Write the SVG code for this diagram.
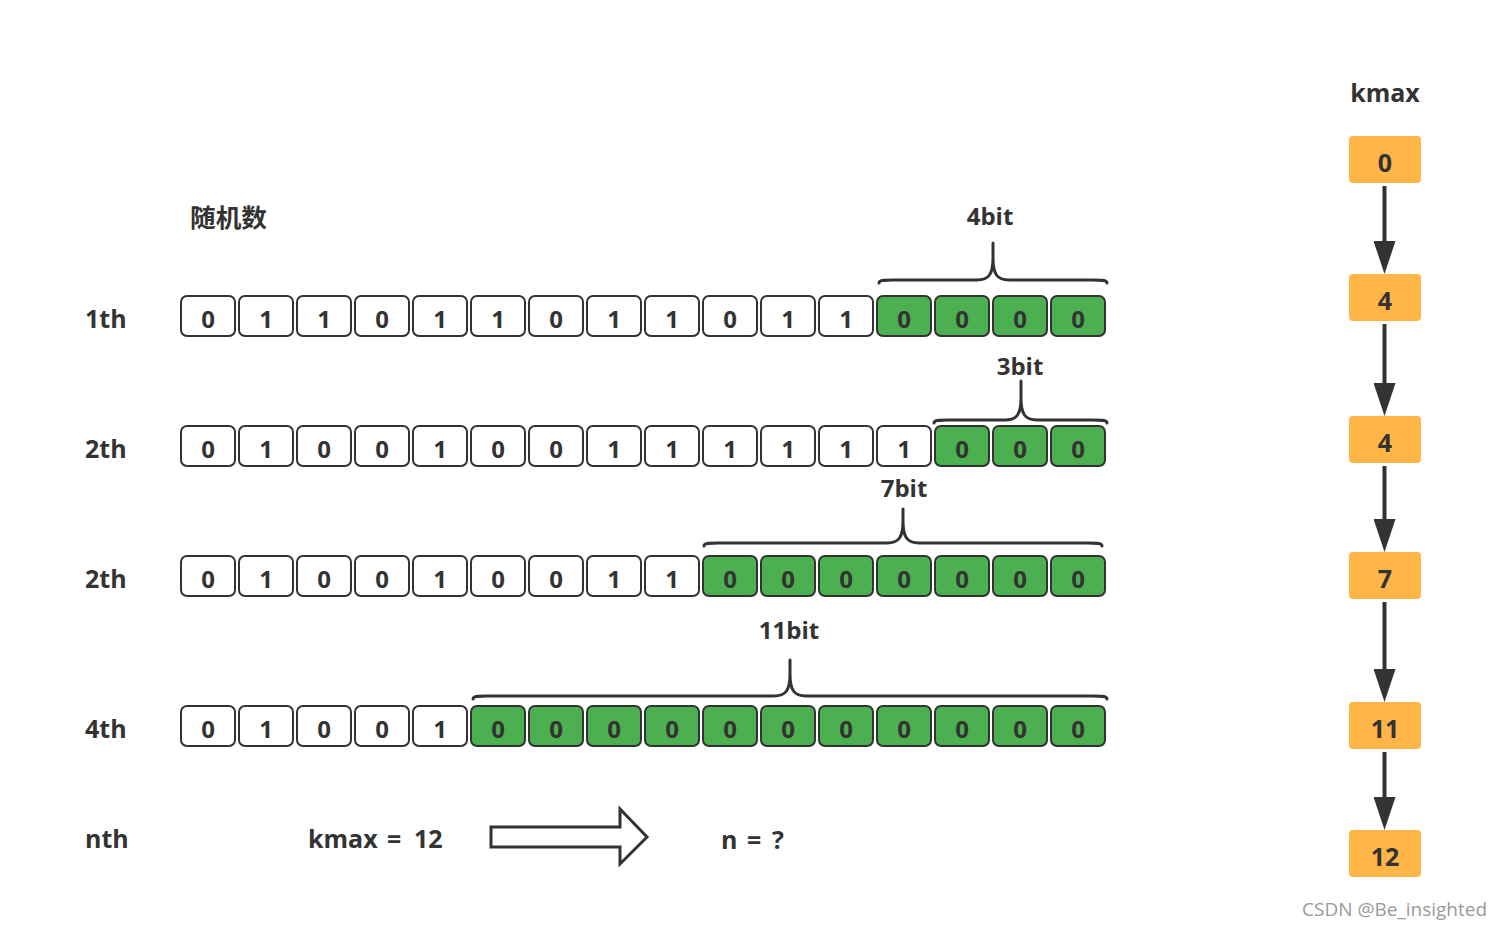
<svg xmlns="http://www.w3.org/2000/svg" width="1501" height="930" viewBox="0 0 1501 930">
<style>
.t{font-family:"Open Sans","Noto Sans CJK SC",sans-serif;font-weight:bold;fill:#333}
.cell{fill:#fff;stroke:#333;stroke-width:2}
.g{fill:#4CAF50;stroke:#333;stroke-width:2}
.d{font-size:24px;text-anchor:middle}
.lab{font-size:25px}
.ob{fill:#FFB547}
.brace{fill:none;stroke:#333;stroke-width:3;stroke-linecap:round}
.conn{stroke:#333;stroke-width:4}
</style>
<defs>
<marker id="ah" viewBox="0 0 33 22" refX="1" refY="11" markerWidth="33" markerHeight="22" markerUnits="userSpaceOnUse" orient="auto">
<path d="M0,0 L33,11 L0,22 z" fill="#333"/>
</marker>
</defs>
<rect width="1501" height="930" fill="#fff"/>

<text class="t" x="190" y="227" font-size="25" textLength="77" lengthAdjust="spacingAndGlyphs" style="font-family:'Noto Sans CJK SC',sans-serif">随机数</text>

<g id="labels">
<text class="t lab" x="85" y="328">1th</text>
<text class="t lab" x="85" y="458">2th</text>
<text class="t lab" x="85" y="588">2th</text>
<text class="t lab" x="85" y="738">4th</text>
<text class="t lab" x="85" y="848">nth</text>
</g>

<g id="row1">
<rect class="cell" x="181" y="296" width="54" height="40" rx="6"/><text class="t d" x="208" y="328">0</text>
<rect class="cell" x="239" y="296" width="54" height="40" rx="6"/><text class="t d" x="266" y="328">1</text>
<rect class="cell" x="297" y="296" width="54" height="40" rx="6"/><text class="t d" x="324" y="328">1</text>
<rect class="cell" x="355" y="296" width="54" height="40" rx="6"/><text class="t d" x="382" y="328">0</text>
<rect class="cell" x="413" y="296" width="54" height="40" rx="6"/><text class="t d" x="440" y="328">1</text>
<rect class="cell" x="471" y="296" width="54" height="40" rx="6"/><text class="t d" x="498" y="328">1</text>
<rect class="cell" x="529" y="296" width="54" height="40" rx="6"/><text class="t d" x="556" y="328">0</text>
<rect class="cell" x="587" y="296" width="54" height="40" rx="6"/><text class="t d" x="614" y="328">1</text>
<rect class="cell" x="645" y="296" width="54" height="40" rx="6"/><text class="t d" x="672" y="328">1</text>
<rect class="cell" x="703" y="296" width="54" height="40" rx="6"/><text class="t d" x="730" y="328">0</text>
<rect class="cell" x="761" y="296" width="54" height="40" rx="6"/><text class="t d" x="788" y="328">1</text>
<rect class="cell" x="819" y="296" width="54" height="40" rx="6"/><text class="t d" x="846" y="328">1</text>
<rect class="g" x="877" y="296" width="54" height="40" rx="6"/><text class="t d" x="904" y="328">0</text>
<rect class="g" x="935" y="296" width="54" height="40" rx="6"/><text class="t d" x="962" y="328">0</text>
<rect class="g" x="993" y="296" width="54" height="40" rx="6"/><text class="t d" x="1020" y="328">0</text>
<rect class="g" x="1051" y="296" width="54" height="40" rx="6"/><text class="t d" x="1078" y="328">0</text>
</g>

<g id="row2">
<rect class="cell" x="181" y="426" width="54" height="40" rx="6"/><text class="t d" x="208" y="458">0</text>
<rect class="cell" x="239" y="426" width="54" height="40" rx="6"/><text class="t d" x="266" y="458">1</text>
<rect class="cell" x="297" y="426" width="54" height="40" rx="6"/><text class="t d" x="324" y="458">0</text>
<rect class="cell" x="355" y="426" width="54" height="40" rx="6"/><text class="t d" x="382" y="458">0</text>
<rect class="cell" x="413" y="426" width="54" height="40" rx="6"/><text class="t d" x="440" y="458">1</text>
<rect class="cell" x="471" y="426" width="54" height="40" rx="6"/><text class="t d" x="498" y="458">0</text>
<rect class="cell" x="529" y="426" width="54" height="40" rx="6"/><text class="t d" x="556" y="458">0</text>
<rect class="cell" x="587" y="426" width="54" height="40" rx="6"/><text class="t d" x="614" y="458">1</text>
<rect class="cell" x="645" y="426" width="54" height="40" rx="6"/><text class="t d" x="672" y="458">1</text>
<rect class="cell" x="703" y="426" width="54" height="40" rx="6"/><text class="t d" x="730" y="458">1</text>
<rect class="cell" x="761" y="426" width="54" height="40" rx="6"/><text class="t d" x="788" y="458">1</text>
<rect class="cell" x="819" y="426" width="54" height="40" rx="6"/><text class="t d" x="846" y="458">1</text>
<rect class="cell" x="877" y="426" width="54" height="40" rx="6"/><text class="t d" x="904" y="458">1</text>
<rect class="g" x="935" y="426" width="54" height="40" rx="6"/><text class="t d" x="962" y="458">0</text>
<rect class="g" x="993" y="426" width="54" height="40" rx="6"/><text class="t d" x="1020" y="458">0</text>
<rect class="g" x="1051" y="426" width="54" height="40" rx="6"/><text class="t d" x="1078" y="458">0</text>
</g>

<g id="row3">
<rect class="cell" x="181" y="556" width="54" height="40" rx="6"/><text class="t d" x="208" y="588">0</text>
<rect class="cell" x="239" y="556" width="54" height="40" rx="6"/><text class="t d" x="266" y="588">1</text>
<rect class="cell" x="297" y="556" width="54" height="40" rx="6"/><text class="t d" x="324" y="588">0</text>
<rect class="cell" x="355" y="556" width="54" height="40" rx="6"/><text class="t d" x="382" y="588">0</text>
<rect class="cell" x="413" y="556" width="54" height="40" rx="6"/><text class="t d" x="440" y="588">1</text>
<rect class="cell" x="471" y="556" width="54" height="40" rx="6"/><text class="t d" x="498" y="588">0</text>
<rect class="cell" x="529" y="556" width="54" height="40" rx="6"/><text class="t d" x="556" y="588">0</text>
<rect class="cell" x="587" y="556" width="54" height="40" rx="6"/><text class="t d" x="614" y="588">1</text>
<rect class="cell" x="645" y="556" width="54" height="40" rx="6"/><text class="t d" x="672" y="588">1</text>
<rect class="g" x="703" y="556" width="54" height="40" rx="6"/><text class="t d" x="730" y="588">0</text>
<rect class="g" x="761" y="556" width="54" height="40" rx="6"/><text class="t d" x="788" y="588">0</text>
<rect class="g" x="819" y="556" width="54" height="40" rx="6"/><text class="t d" x="846" y="588">0</text>
<rect class="g" x="877" y="556" width="54" height="40" rx="6"/><text class="t d" x="904" y="588">0</text>
<rect class="g" x="935" y="556" width="54" height="40" rx="6"/><text class="t d" x="962" y="588">0</text>
<rect class="g" x="993" y="556" width="54" height="40" rx="6"/><text class="t d" x="1020" y="588">0</text>
<rect class="g" x="1051" y="556" width="54" height="40" rx="6"/><text class="t d" x="1078" y="588">0</text>
</g>

<g id="row4">
<rect class="cell" x="181" y="706" width="54" height="40" rx="6"/><text class="t d" x="208" y="738">0</text>
<rect class="cell" x="239" y="706" width="54" height="40" rx="6"/><text class="t d" x="266" y="738">1</text>
<rect class="cell" x="297" y="706" width="54" height="40" rx="6"/><text class="t d" x="324" y="738">0</text>
<rect class="cell" x="355" y="706" width="54" height="40" rx="6"/><text class="t d" x="382" y="738">0</text>
<rect class="cell" x="413" y="706" width="54" height="40" rx="6"/><text class="t d" x="440" y="738">1</text>
<rect class="g" x="471" y="706" width="54" height="40" rx="6"/><text class="t d" x="498" y="738">0</text>
<rect class="g" x="529" y="706" width="54" height="40" rx="6"/><text class="t d" x="556" y="738">0</text>
<rect class="g" x="587" y="706" width="54" height="40" rx="6"/><text class="t d" x="614" y="738">0</text>
<rect class="g" x="645" y="706" width="54" height="40" rx="6"/><text class="t d" x="672" y="738">0</text>
<rect class="g" x="703" y="706" width="54" height="40" rx="6"/><text class="t d" x="730" y="738">0</text>
<rect class="g" x="761" y="706" width="54" height="40" rx="6"/><text class="t d" x="788" y="738">0</text>
<rect class="g" x="819" y="706" width="54" height="40" rx="6"/><text class="t d" x="846" y="738">0</text>
<rect class="g" x="877" y="706" width="54" height="40" rx="6"/><text class="t d" x="904" y="738">0</text>
<rect class="g" x="935" y="706" width="54" height="40" rx="6"/><text class="t d" x="962" y="738">0</text>
<rect class="g" x="993" y="706" width="54" height="40" rx="6"/><text class="t d" x="1020" y="738">0</text>
<rect class="g" x="1051" y="706" width="54" height="40" rx="6"/><text class="t d" x="1078" y="738">0</text>
</g>

<g id="braces">
<path class="brace" d="M879,283 C879,280 883,280 893,280 L977,280 C989,280 993,274 993,258 L993,243 M993,258 C993,274 997,280 1009,280 L1093,280 C1103,280 1107,280 1107,283"/>
<text class="t" x="990" y="225" font-size="24" text-anchor="middle">4bit</text>
<path class="brace" d="M934,423 C934,420 938,420 948,420 L1005,420 C1017,420 1021,414 1021,398 L1021,381 M1021,398 C1021,414 1025,420 1037,420 L1093,420 C1103,420 1107,420 1107,423"/>
<text class="t" x="1020" y="375" font-size="24" text-anchor="middle">3bit</text>
<path class="brace" d="M704,546 C704,543 708,543 718,543 L887,543 C899,543 903,537 903,521 L903,509 M903,521 C903,537 907,543 919,543 L1088,543 C1098,543 1102,543 1102,546"/>
<text class="t" x="904" y="497" font-size="24" text-anchor="middle">7bit</text>
<path class="brace" d="M473,699 C473,696 477,696 487,696 L774,696 C786,696 790,690 790,674 L790,660 M790,674 C790,690 794,696 806,696 L1093,696 C1103,696 1107,696 1107,699"/>
<text class="t" x="789" y="639" font-size="24" text-anchor="middle">11bit</text>
</g>

<g id="bottom">
<text class="t lab" y="848"><tspan x="308">kmax</tspan><tspan x="387">=</tspan><tspan x="414">12</tspan></text>
<path d="M491,827 L620,827 L620,809 L647,837 L620,864 L620,847 L491,847 z" fill="#fff" stroke="#333" stroke-width="3" stroke-linejoin="miter"/>
<text class="t lab" y="849"><tspan x="721">n</tspan><tspan x="747">=</tspan><tspan x="772">?</tspan></text>
</g>

<text class="t" x="1385" y="102" font-size="25" text-anchor="middle">kmax</text>

<g id="k0"><rect class="ob" x="1349" y="136" width="72" height="47" rx="4"/><text class="t lab" x="1385" y="172" text-anchor="middle">0</text></g>
<g id="k1"><rect class="ob" x="1349" y="274" width="72" height="47" rx="4"/><text class="t lab" x="1385" y="310" text-anchor="middle">4</text></g>
<g id="k2"><rect class="ob" x="1349" y="416" width="72" height="47" rx="4"/><text class="t lab" x="1385" y="452" text-anchor="middle">4</text></g>
<g id="k3"><rect class="ob" x="1349" y="552" width="72" height="47" rx="4"/><text class="t lab" x="1385" y="588" text-anchor="middle">7</text></g>
<g id="k4"><rect class="ob" x="1349" y="702" width="72" height="47" rx="4"/><text class="t lab" x="1385" y="738" text-anchor="middle">11</text></g>
<g id="k5"><rect class="ob" x="1349" y="830" width="72" height="47" rx="4"/><text class="t lab" x="1385" y="866" text-anchor="middle">12</text></g>

<g id="connectors">
<line class="conn" x1="1384.5" y1="186" x2="1384.5" y2="242" marker-end="url(#ah)"/>
<line class="conn" x1="1384.5" y1="324" x2="1384.5" y2="384" marker-end="url(#ah)"/>
<line class="conn" x1="1384.5" y1="466" x2="1384.5" y2="520" marker-end="url(#ah)"/>
<line class="conn" x1="1384.5" y1="602" x2="1384.5" y2="670" marker-end="url(#ah)"/>
<line class="conn" x1="1384.5" y1="752" x2="1384.5" y2="798" marker-end="url(#ah)"/>
</g>

<text x="1302" y="916" font-size="19" fill="#999" textLength="185" lengthAdjust="spacingAndGlyphs" style="font-family:'Open Sans',sans-serif">CSDN @Be_insighted</text>
</svg>
